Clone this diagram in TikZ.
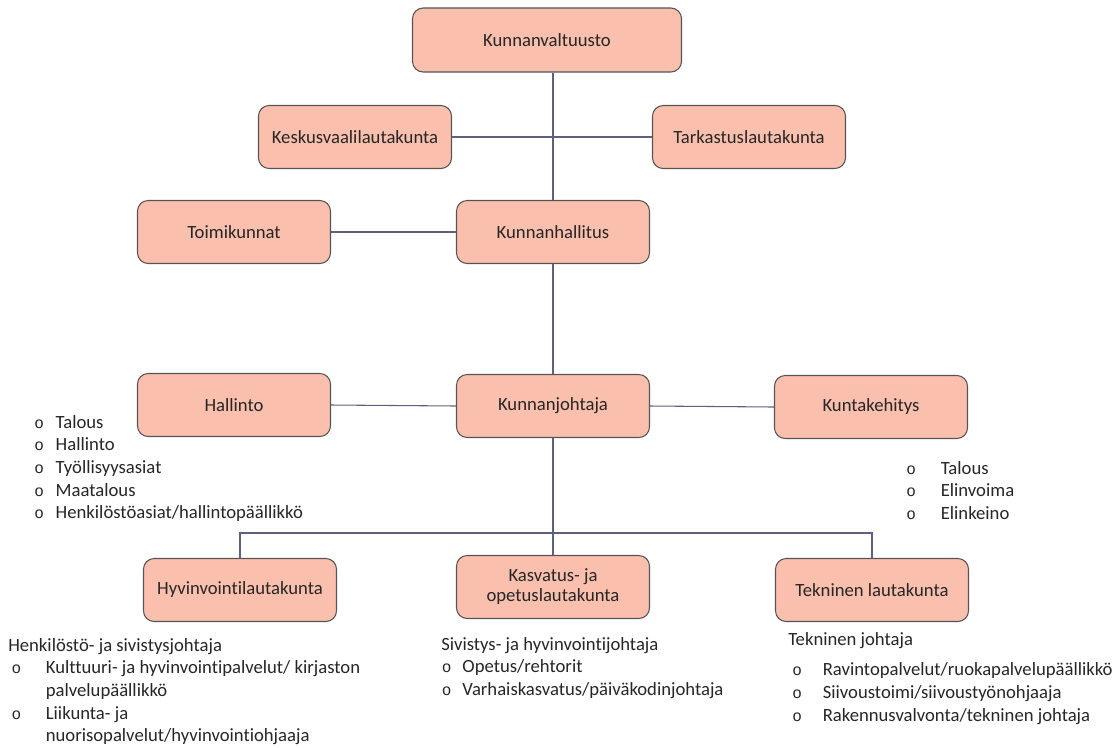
\documentclass[tikz,border=0pt]{standalone}
\usepackage{fontspec}
\setmainfont{Carlito}[Ligatures=NoCommon]
\newfontfamily\bulletfont{Liberation Mono}
\definecolor{boxfill}{RGB}{251,191,173}
\definecolor{boxline}{RGB}{85,85,85}
\definecolor{linkline}{RGB}{95,95,128}
\definecolor{txt}{RGB}{38,38,38}
\tikzstyle{orgstyle}=[draw=boxline, fill=boxfill, rounded corners=8pt, align=center, text=txt,
  font=\fontsize{14pt}{15pt}\selectfont, minimum height=47.25pt, line width=0.8pt]
\tikzstyle{orgbox} = [orgstyle, minimum width=144.75pt]
\tikzstyle{topbox} = [orgstyle, minimum width=201.75pt, minimum height=48pt]
\tikzstyle{link} = [draw=linkline, line width=0.8pt]
\tikzstyle{listtext} = [anchor=base west, inner sep=0pt, text=txt, font=\fontsize{14pt}{17pt}\selectfont]
\newcommand{\bul}{{\bulletfont\fontsize{12pt}{17pt}\selectfont o}}

\begin{document}
\begin{tikzpicture}[x=0.75pt, y=-0.75pt]
\useasboundingbox (0,0) rectangle (1119,747);
% Organisation boxes
\path (547,40)  node (valt)  [topbox] {Kunnanvaltuusto};
\path (355,137) node (kvlk)  [orgbox] {Keskusvaalilautakunta};
\path (749,137) node (tlk)   [orgbox] {Tarkastuslautakunta};
\path (234,232) node (toim)  [orgbox] {Toimikunnat};
\path (553,232) node (khall) [orgbox] {Kunnanhallitus};
\path (234,405) node (hall)  [orgbox] {Hallinto};
\path (553,406) node (kjoht) [orgbox] {Kunnanjohtaja};
\path (871,407) node (kkeh)  [orgbox] {Kuntakehitys};
\path (240,590) node (hyv)   [orgbox] {Hyvinvointilautakunta};
\path (553,587) node (kasv)  [orgbox] {Kasvatus- ja\\opetuslautakunta};
\path (872,590) node (tekn)  [orgbox] {Tekninen lautakunta};
\coordinate (bus) at (553,533);

% Connecting lines
\path [link] (valt.south -| khall.north) -- (khall.north);
\path [link] (kvlk.east) -- (tlk.west);
\path [link] (toim.east) -- (khall.west);
\path [link] (khall.south) -- (kjoht.north);
\path [link] (hall.east) -- (kjoht.west);
\path [link] (kjoht.east) -- (kkeh.west);
\path [link] (kjoht.south) -- (kjoht.south |- bus);
\path [link] (hyv.north) -- (hyv.north |- bus) -- (tekn.north |- bus) -- (tekn.north);
\path [link] (kasv.north) -- (kasv.north |- bus);

% Task lists
\path (34,428) node (lhall) [listtext] {%
  \begin{tabular}[t]{@{}l@{\hspace{8.9pt}}l@{}}
  \bul & Talous\\
  \bul & Hallinto\\
  \bul & Työllisyysasiat\\
  \bul & Maatalous\\
  \bul & Henkilöstöasiat/hallintopäällikkö
  \end{tabular}};
\path (906,474) node (lkeh) [listtext] {%
  \begin{tabular}[t]{@{}l@{\hspace{18.7pt}}l@{}}
  \bul & Talous\\
  \bul & Elinvoima\\
  \bul & Elinkeino
  \end{tabular}};
\path (8,651) node (lhyv) [listtext] {%
  \begin{tabular}[t]{@{}l@{\hspace{18.5pt}}l@{}}
  \multicolumn{2}{@{}l@{}}{Henkilöstö- ja sivistysjohtaja}\\
  \hspace{2.5pt}\bul & Kulttuuri- ja hyvinvointipalvelut/ kirjaston\\
   & palvelupäällikkö\\
  \hspace{2.5pt}\bul & Liikunta- ja\\
   & nuorisopalvelut/hyvinvointiohjaaja
  \end{tabular}};
\path (441,650) node (lkasv) [listtext] {%
  \begin{tabular}[t]{@{}l@{\hspace{8.2pt}}l@{}}
  \multicolumn{2}{@{}l@{}}{Sivistys- ja hyvinvointijohtaja}\\
  \hspace{0.5pt}\bul & Opetus/rehtorit\\
  \hspace{0.5pt}\bul & Varhaiskasvatus/päiväkodinjohtaja
  \end{tabular}};
\path (788,645) node (ltekn) [listtext] {%
  \begin{tabular}[t]{@{}l@{\hspace{15.7pt}}l@{}}
  \multicolumn{2}{@{}l@{}}{Tekninen johtaja}\\[6pt]
  \hspace{3pt}\bul & Ravintopalvelut/ruokapalvelupäällikkö\\
  \hspace{3pt}\bul & Siivoustoimi/siivoustyönohjaaja\\
  \hspace{3pt}\bul & Rakennusvalvonta/tekninen johtaja
  \end{tabular}};
\end{tikzpicture}
\end{document}
